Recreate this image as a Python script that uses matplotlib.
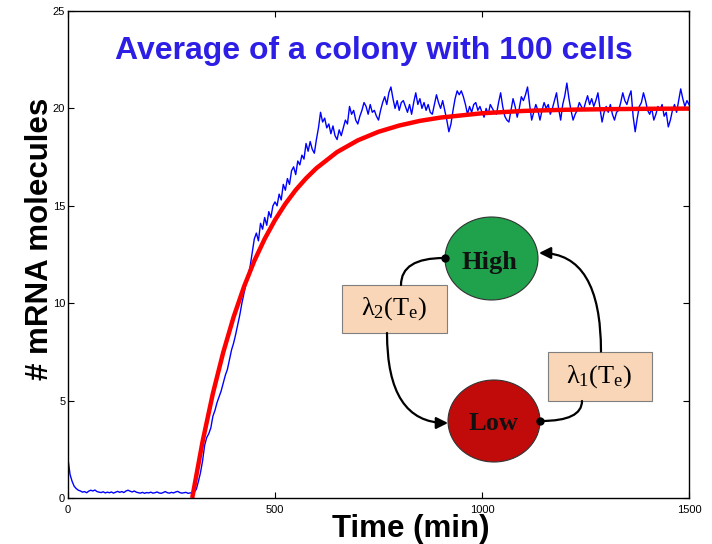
import numpy as np
import matplotlib
matplotlib.use('Agg')
import matplotlib.pyplot as plt
from matplotlib.patches import Ellipse, Rectangle, FancyArrowPatch

plt.rcParams['font.family'] = ['Liberation Sans', 'DejaVu Sans']
plt.rcParams['mathtext.fontset'] = 'custom'
plt.rcParams['mathtext.rm'] = 'Liberation Serif'
plt.rcParams['mathtext.it'] = 'Liberation Serif:italic'

# simulated colony average, one value every 5 min
time = np.arange(0, 1501, 5)
mrna_avg = [
    2.00, 1.20, 0.85, 0.60, 0.48, 0.40, 0.36, 0.30, 0.33, 0.27, 0.35, 0.40, 0.36, 0.41, 0.33, 0.30, 0.28, 0.32, 0.26, 0.30,
    0.27, 0.31, 0.25, 0.30, 0.34, 0.29, 0.33, 0.28, 0.36, 0.40, 0.35, 0.31, 0.36, 0.30, 0.27, 0.25, 0.29, 0.24, 0.28, 0.26,
    0.30, 0.25, 0.27, 0.31, 0.26, 0.24, 0.28, 0.33, 0.27, 0.25, 0.29, 0.26, 0.31, 0.34, 0.28, 0.25, 0.27, 0.29, 0.24, 0.26,
    0.28, 0.30, 0.45, 0.85, 1.30, 1.90, 2.70, 3.10, 3.30, 3.60, 4.20, 4.50, 4.90, 5.20, 5.50, 5.90, 6.30, 6.60, 7.10, 7.60,
    7.95, 8.40, 8.90, 9.40, 10.0, 10.5, 11.0, 11.4, 11.9, 12.6, 13.3, 13.6, 13.2, 14.1, 13.8, 14.4, 14.0, 14.7, 14.4, 15.0,
    15.2, 15.0, 15.6, 15.3, 16.1, 15.8, 16.4, 16.1, 16.8, 17.0, 16.6, 17.3, 17.1, 17.6, 17.4, 18.2, 17.8, 18.3, 17.9, 17.7,
    18.4, 19.0, 19.8, 19.3, 19.5, 19.0, 19.2, 18.7, 19.1, 18.6, 18.4, 18.9, 18.6, 19.0, 19.4, 19.2, 20.1, 19.7, 19.9, 19.4,
    19.2, 19.6, 19.9, 20.3, 20.1, 19.7, 20.2, 19.8, 19.9, 19.6, 19.4, 19.9, 20.3, 20.6, 20.2, 20.8, 21.1, 20.5, 20.0, 20.4,
    19.9, 20.3, 20.4, 20.1, 19.8, 20.2, 19.7, 20.3, 20.8, 20.2, 20.5, 20.0, 20.3, 19.9, 20.2, 19.8, 19.7, 20.2, 20.7, 20.3,
    20.0, 20.4, 19.9, 19.4, 18.8, 19.2, 19.9, 20.5, 20.9, 20.7, 20.9, 20.6, 20.2, 19.7, 20.1, 19.8, 20.2, 20.3, 19.9, 20.1,
    19.8, 19.55, 20.0, 19.7, 20.2, 20.0, 19.8, 19.7, 20.3, 20.8, 20.1, 19.6, 19.4, 19.3, 19.9, 20.5, 20.1, 19.55, 20.0, 20.6,
    20.4, 20.7, 21.1, 20.2, 19.4, 19.8, 20.2, 19.9, 19.4, 19.9, 20.3, 20.0, 20.2, 19.7, 20.0, 20.4, 20.8, 20.0, 19.4, 20.2,
    20.65, 21.3, 20.5, 19.9, 19.4, 19.7, 19.9, 20.3, 20.1, 19.9, 20.3, 20.65, 20.2, 20.5, 20.1, 20.4, 20.8, 20.0, 19.3, 19.8,
    20.1, 19.8, 20.2, 19.7, 19.4, 19.8, 19.9, 20.3, 20.8, 20.4, 20.2, 20.6, 20.9, 19.6, 18.8, 19.5, 20.1, 20.3, 20.8, 20.4,
    19.9, 19.7, 20.0, 19.4, 19.7, 20.1, 19.9, 20.2, 19.6, 19.8, 19.05, 19.4, 19.9, 20.2, 19.8, 20.4, 21.0, 20.5, 20.1, 20.4,
    20.2,
]

# deterministic prediction (red)
fit_time = [300, 325, 350, 375, 400, 425, 450, 475, 500, 525, 550, 575, 600,
            650, 700, 750, 800, 850, 900, 1000, 1100, 1200, 1300, 1400, 1500]
fit_mrna = [0.0, 2.89, 5.37, 7.48, 9.29, 10.84, 12.17, 13.30, 14.27, 15.10, 15.81, 16.41, 16.93,
            17.76, 18.36, 18.80, 19.12, 19.36, 19.53, 19.75, 19.87, 19.93, 19.96, 19.98, 19.99]

x_ticks = [0, 500, 1000, 1500]
y_ticks = [0, 5, 10, 15, 20, 25]

W, H = 712, 544
fig = plt.figure(figsize=(W / 100, H / 100), dpi=100)
ax = fig.add_axes([68 / W, 1 - 498 / H, (689 - 68) / W, (498 - 11) / H])

ax.plot(time, mrna_avg, color='#0000FF', lw=1.0)
ax.plot(fit_time, fit_mrna, color='#FF0000', lw=3.2, solid_capstyle='butt')

ax.set_xlim(0, 1500)
ax.set_ylim(0, 25)
ax.set_xticks(x_ticks)
ax.set_yticks(y_ticks)
ax.tick_params(direction='in', top=True, right=True, length=4, width=0.8, labelsize=8)
ax.tick_params(axis='x', pad=5)
ax.tick_params(axis='y', pad=2)
for s in ax.spines.values():
    s.set_linewidth(1.0)

fig.text(374 / W, 1 - 59 / H, 'Average of a colony with 100 cells', color='#2D1EE6',
         fontsize=23, fontweight='bold', ha='center', va='baseline')
fig.text(411 / W, 1 - 537 / H, 'Time (min)', fontsize=22.5, fontweight='bold',
         ha='center', va='baseline')
fig.text(40 / W, 1 - 239 / H, '# mRNA molecules', fontsize=22.5, fontweight='bold',
         rotation=90, ha='center', va='center')

# two-state diagram, drawn in pixel coordinates
dx0, dx1, dy0, dy1 = 330, 670, 210, 470
dax = fig.add_axes([dx0 / W, 1 - dy1 / H, (dx1 - dx0) / W, (dy1 - dy0) / H])
dax.set_xlim(dx0, dx1)
dax.set_ylim(dy1, dy0)
dax.axis('off')
dax.patch.set_alpha(0)

dax.add_patch(Ellipse((491.5, 258.5), 93, 83, facecolor='#1FA24B', edgecolor='#333333', lw=0.8))
dax.add_patch(Ellipse((494, 421), 92, 82, facecolor='#C10A0A', edgecolor='#333333', lw=0.8))
dax.text(489, 262, 'High', family='Liberation Serif', fontweight='bold', fontsize=19,
         ha='center', va='center', color='#111111')
dax.text(493, 424, 'Low', family='Liberation Serif', fontweight='bold', fontsize=19,
         ha='center', va='center', color='#111111')

dax.add_patch(Rectangle((342, 285), 105, 48, facecolor='#F9D6B7', edgecolor='#7F7F7F', lw=0.8))
dax.add_patch(Rectangle((547.5, 351.5), 104, 49.5, facecolor='#F9D6B7', edgecolor='#7F7F7F', lw=0.8))
dax.text(394.5, 309, r'$\mathrm{\lambda_2(T_e)}$', fontsize=19, ha='center', va='center')
dax.text(599.5, 377, r'$\mathrm{\lambda_1(T_e)}$', fontsize=19, ha='center', va='center')

arrow_kw = dict(color='black', lw=1.6, shrinkA=0, shrinkB=0)
dax.add_patch(FancyArrowPatch((444, 258), (401, 285), arrowstyle='-',
                              connectionstyle='angle3,angleA=180,angleB=90', **arrow_kw))
dax.add_patch(FancyArrowPatch((387, 333), (448, 423), arrowstyle='-|>,head_length=7,head_width=3.5',
                              connectionstyle='angle3,angleA=90,angleB=0', **arrow_kw))
dax.add_patch(FancyArrowPatch((541, 421), (582, 401), arrowstyle='-',
                              connectionstyle='angle3,angleA=0,angleB=90', **arrow_kw))
dax.add_patch(FancyArrowPatch((601, 351.5), (539, 253), arrowstyle='-|>,head_length=7,head_width=3.5',
                              connectionstyle='angle3,angleA=90,angleB=0', **arrow_kw))
dax.plot([445, 540], [258, 421], 'o', color='black', ms=5)

fig.savefig('out.png', dpi=100)
